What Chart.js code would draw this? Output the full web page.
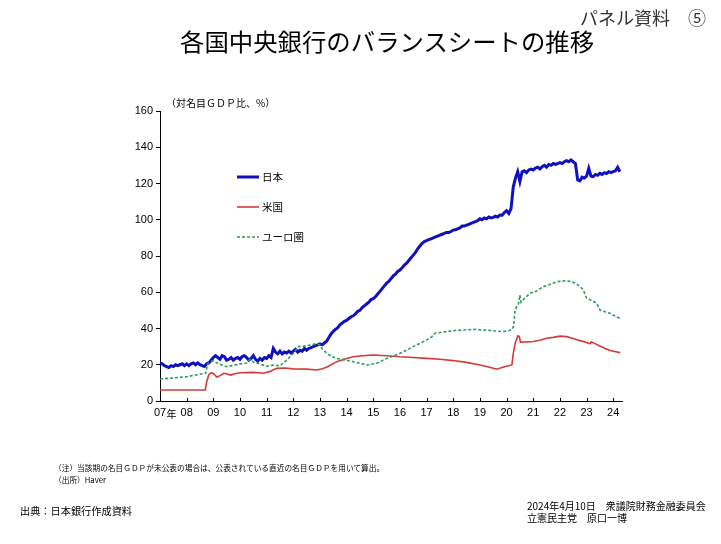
<!DOCTYPE html>
<html><head><meta charset="utf-8">
<script src="https://cdn.jsdelivr.net/npm/chart.js@4.4.1/dist/chart.umd.min.js"></script>
<style>
body{margin:0;background:#fff;}
#wrap{position:relative;width:721px;height:544px;overflow:hidden;font-family:"Noto Sans CJK JP","Noto Sans",sans-serif;color:#000;background:#fff;}
canvas{position:absolute;left:0;top:0;}
.t{position:absolute;white-space:nowrap;line-height:1;}
svg{position:absolute;}
</style></head><body>
<div id="wrap">
<canvas id="c" width="721" height="544"></canvas>
<div class="t" style="left:580px;top:8px;font-size:18px;color:#333;">パネル資料　⑤</div>
<div class="t" style="left:180px;top:29px;font-size:24.4px;">各国中央銀行のバランスシートの推移</div>
<div class="t" style="left:166px;top:98px;font-size:10px;">（対名目ＧＤＰ比、%）</div>
<svg style="left:236px;top:170px" width="26" height="80">
<line x1="1" y1="7" x2="23" y2="7" stroke="#1010c0" stroke-width="3"/>
<line x1="1" y1="37" x2="23" y2="37" stroke="#d43a3a" stroke-width="1.6"/>
<line x1="1" y1="67" x2="23" y2="67" stroke="#2c9c5c" stroke-width="1.6" stroke-dasharray="3,2"/>
</svg>
<div class="t" style="left:262px;top:172px;font-size:10.5px;">日本</div>
<div class="t" style="left:262px;top:202px;font-size:10.5px;">米国</div>
<div class="t" style="left:262px;top:232px;font-size:10.5px;">ユーロ圏</div>
<div class="t" style="left:54px;top:464px;font-size:7.7px;">（注）当該期の名目ＧＤＰが未公表の場合は、公表されている直近の名目ＧＤＰを用いて算出。</div>
<div class="t" style="left:54px;top:476px;font-size:7.7px;">（出所）Haver</div>
<div class="t" style="left:20px;top:506px;font-size:10.2px;">出典：日本銀行作成資料</div>
<div class="t" style="left:527px;top:501px;font-size:10px;">2024年4月10日　衆議院財務金融委員会</div>
<div class="t" style="left:527px;top:513px;font-size:10px;">立憲民主党　原口一博</div>
</div>
<script>
// x tick labels (years)
const xTickLabels = ["07","08","09","10","11","12","13","14","15","16","17","18","19","20","21","22","23","24"];
const yTicks = [0,20,40,60,80,100,120,140,160];

// Japan: monthly values from Jan 2007 to Apr 2024
const japanStart = 2007;
const japanValues = [
 21,20.5,19.5,19,18.5,19.5,19,20,19.5,20,20.5,19.5,
 20.5,19.5,20.5,21,20,21,20,19.5,19,20.5,21,22.5,
 24,25,24,23,25,24.5,22.5,23,24,22.5,23.5,24,
 23,24.5,25,24,22.5,23.5,25,23,22,23.5,22.5,24,
 23.5,25,24,29,27,26,27.5,26,27,26.5,27.5,26.5,
 27.5,28.5,27,28,27.5,29,28,29,29.5,30,30.5,31,
 31.5,31,32,33,35,37,38.5,39.5,40.5,42,43,44,
 44.5,45.5,46.5,47,48,49.5,50,51.5,52.5,53.5,54.5,56,
 56.5,57.5,59,60.5,62,63.5,65,66,67.5,69,70,71.5,
 72.3,73.5,75,76,77.5,79,80.5,82,84,85.5,87,88,
 88.5,89,89.5,90,90.5,91,91.5,92,92.5,93,93,93.5,
 94.3,94.5,95,95.5,96.5,96.5,97,97.5,98,98.5,99,99.5,
 100.5,100,101,100.5,101.5,101,101.3,102,101.5,102.6,102.5,104,
 105,103.5,106,118,123,126.5,121,126.5,127,126,127.5,128,
 127.5,128.5,129,128,129.3,130,129,130.5,130,131,130.5,131,
 131.5,131,132,132.6,132,133,132,131,122,121.5,123.5,123,
 124,128.4,124,123.8,125,124.5,125.6,125,126,125.5,126.5,126,
 126.5,127,128.9,126.5
];

// United States
const usDates = [2007.0,2008.0,2008.7,2008.75,2008.83,2008.92,2009.0,2009.13,2009.25,2009.4,2009.55,2009.65,2009.8,2010.0,2010.5,2010.88,2011.1,2011.38,2011.7,2012.0,2012.5,2012.88,2013.1,2013.3,2013.63,2014.0,2014.25,2014.6,2015.0,2015.5,2016.0,2016.5,2017.0,2017.5,2018.0,2018.5,2019.0,2019.4,2019.63,2019.8,2020.0,2020.2,2020.25,2020.32,2020.42,2020.48,2020.52,2020.75,2021.0,2021.25,2021.5,2021.75,2022.0,2022.25,2022.5,2022.76,2023.0,2023.13,2023.18,2023.3,2023.5,2023.7,2023.88,2024.1,2024.26];
const usValues = [6.1,6.1,6.1,10.5,14.5,15.6,15.2,13.2,14.0,15.3,14.8,14.3,15,15.6,15.8,15.3,16.2,18,18.2,17.7,17.6,17.1,17.8,19,21.7,23.4,24.4,25.0,25.4,25,24.4,24,23.5,23,22.3,21.3,19.9,18.5,17.5,18.3,19.2,19.9,26,31.8,35.9,35.5,32.5,32.6,32.8,33.5,34.6,35.1,35.8,35.5,34.5,33.3,32.3,31.6,32.7,31.8,30.3,29,27.9,27.2,26.7];

// Euro area
const euroDates = [2007.0,2007.5,2008.0,2008.4,2008.72,2008.78,2008.9,2009.0,2009.2,2009.5,2009.75,2010.0,2010.25,2010.38,2010.5,2010.75,2011.0,2011.25,2011.5,2011.75,2012.0,2012.2,2012.5,2012.8,2012.97,2013.1,2013.26,2013.45,2013.63,2014.0,2014.25,2014.5,2014.76,2014.95,2015.13,2015.3,2015.5,2015.75,2016.0,2016.25,2016.5,2016.75,2017.0,2017.2,2017.32,2017.6,2018.0,2018.4,2018.75,2019.25,2019.6,2019.88,2020.1,2020.2,2020.26,2020.32,2020.45,2020.5,2020.54,2020.7,2020.88,2021.1,2021.38,2021.6,2021.88,2022.26,2022.45,2022.63,2022.8,2022.88,2023.0,2023.2,2023.38,2023.5,2023.7,2023.88,2024.05,2024.26];
const euroValues = [12.1,12.7,13.4,14.5,15.3,20.5,21.8,22.1,20.5,18.9,19.7,20.4,21,23,21.5,20.4,19.2,19.8,19.4,22.5,26.3,30,30.5,31.4,31.2,28.5,26.3,24.5,23.5,22.5,21.7,20.8,19.9,20.4,20.8,22,23.5,24.8,26.3,28,30,31.8,33.7,35.5,37.4,38,38.8,39.2,39.5,39.1,38.6,38.3,38.9,39.5,41,50.2,53.9,58.5,54.5,57,59.4,60.5,63.1,64.2,65.8,66.4,65.8,64.6,62.5,61.2,56.7,55.5,53.9,50.2,49.2,48.4,47,45.6];

const japanPts = japanValues.map((v,i)=>({x: japanStart + i/12, y: v}));
const usPts = usDates.map((d,i)=>({x:d, y:usValues[i]}));
const euroPts = euroDates.map((d,i)=>({x:d, y:euroValues[i]}));

const extra = {
  id:'extra',
  afterDraw(chart){
    const ctx = chart.ctx, xs = chart.scales.x, a = chart.chartArea;
    ctx.save();
    ctx.strokeStyle = '#000'; ctx.lineWidth = 1;
    for (let i=1;i<xTickLabels.length;i++){
      const px = Math.round(xs.getPixelForValue(2007+i))+0.5;
      ctx.beginPath(); ctx.moveTo(px, a.bottom); ctx.lineTo(px, a.bottom-3); ctx.stroke();
    }
    ctx.fillStyle = '#000'; ctx.textBaseline = 'middle'; ctx.textAlign = 'left';
    ctx.font = '11px "Liberation Sans"';
    const w = ctx.measureText(xTickLabels[0]).width;
    ctx.font = '10px "Noto Sans CJK JP"';
    ctx.fillText('年', xs.getPixelForValue(2007) + w/2 + 0.5, a.bottom + 13);
    ctx.restore();
  }
};

new Chart(document.getElementById('c'), {
  type:'line',
  data:{datasets:[
    {label:'ユーロ圏', data:euroPts, borderColor:'#2c9c5c', borderWidth:1.6, borderDash:[3,2], pointRadius:0, tension:0},
    {label:'米国', data:usPts, borderColor:'#d43a3a', borderWidth:1.6, pointRadius:0, tension:0},
    {label:'日本', data:japanPts, borderColor:'#1010c0', borderWidth:3, pointRadius:0, tension:0}
  ]},
  options:{
    responsive:false, animation:false, devicePixelRatio:1,
    layout:{padding:{left:0,top:111,right:99,bottom:0}},
    plugins:{legend:{display:false}, tooltip:{enabled:false}},
    scales:{
      x:{type:'linear', min:2007, max:2024.33,
        afterFit(s){ s.height = 143; },
        afterBuildTicks(s){ s.ticks = xTickLabels.map((_,i)=>({value:2007+i})); },
        grid:{display:true, drawOnChartArea:false, drawTicks:false},
        border:{display:true, color:'#000', width:1},
        ticks:{autoSkip:false, maxRotation:0, padding:5, color:'#000',
          font:{family:'"Liberation Sans", Arial', size:11},
          callback(v){ const i = Math.round(v) - 2007; return xTickLabels[i] || ''; }}
      },
      y:{min:0, max:160,
        afterFit(s){ s.width = 160; },
        afterBuildTicks(s){ s.ticks = yTicks.map(v=>({value:v})); },
        grid:{display:true, drawOnChartArea:false, drawTicks:true, tickLength:4, color:'#000'},
        border:{display:true, color:'#000', width:1},
        ticks:{padding:3, color:'#000', font:{family:'"Liberation Sans", Arial', size:11}}
      }
    }
  },
  plugins:[extra]
});
</script>
</body></html>
